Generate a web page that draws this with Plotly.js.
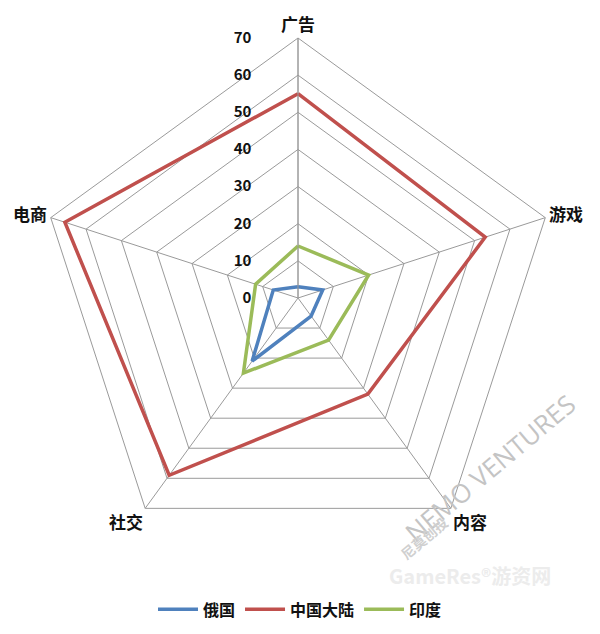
<!DOCTYPE html>
<html>
<head>
<meta charset="utf-8">
<script src="https://cdn.plot.ly/plotly-3.0.1.min.js"></script>
<style>html,body{margin:0;padding:0;background:#fff;}#chart{width:600px;height:634px;}</style>
</head>
<body>
<div id="chart"></div>
<script>
const categories = ["广告", "游戏", "内容", "社交", "电商"];
const seriesNames = ["俄国", "中国大陆", "印度"];
const russia = [3, 7, 6, 21, 7];
const china = [55, 53, 32, 59, 66];
const india = [14, 20, 14, 25, 12];
const radialTicks = [0, 10, 20, 30, 40, 50, 60, 70];

const colors = ["#4f81bd", "#c0504d", "#9bbb59"];
const values = [russia, china, india];

const traces = values.map((v, i) => ({
  type: "scatterpolar",
  mode: "lines",
  name: seriesNames[i],
  r: v.concat([v[0]]),
  theta: categories.concat([categories[0]]),
  line: { color: colors[i], width: 3.5 },
  hoverinfo: "skip"
}));

const font = { family: "'Noto Sans CJK SC', 'Noto Sans', sans-serif", color: "#111", size: 15 };
const pad = "\u00a0".repeat(12);

const layout = {
  width: 600, height: 634,
  margin: { l: 0, r: 0, t: 0, b: 0 },
  paper_bgcolor: "#ffffff",
  font: font,
  showlegend: true,
  legend: {
    orientation: "h", x: 0.5, xanchor: "center", y: 0.012, yanchor: "bottom",
    font: { family: font.family, size: 16, color: "#111", weight: "bold" },
    itemwidth: 40
  },
  polar: {
    domain: { x: [38 / 600, 558 / 600], y: [1 - 558 / 634, 1 - 38 / 634] },
    bgcolor: "#ffffff",
    gridshape: "linear",
    radialaxis: {
      range: [0, 70],
      tickvals: radialTicks,
      ticktext: radialTicks.map(t => String(t) + pad),
      angle: 90,
      side: "counterclockwise",
      tickangle: 90,
      showline: true,
      linecolor: "#9a9a9a",
      linewidth: 1,
      gridcolor: "#9a9a9a",
      gridwidth: 1,
      ticks: "",
      tickfont: { family: font.family, size: 15, color: "#111", weight: "bold" }
    },
    angularaxis: {
      rotation: 90,
      direction: "clockwise",
      showline: true,
      linecolor: "#9a9a9a",
      linewidth: 1,
      gridcolor: "#9a9a9a",
      gridwidth: 1,
      ticks: "",
      tickfont: { family: font.family, size: 17, color: "#111", weight: "bold" }
    }
  },
  annotations: [
    { text: "NEMO VENTURES", x: 490 / 600, y: 1 - 468 / 634, xref: "paper", yref: "paper",
      xanchor: "center", yanchor: "middle", showarrow: false,
      textangle: -40, font: { family: "'Open Sans', sans-serif", size: 26, color: "#c4c4c4" } },
    { text: "尼莫创投", x: 424 / 600, y: 1 - 538 / 634, xref: "paper", yref: "paper",
      xanchor: "center", yanchor: "middle", showarrow: false,
      textangle: -40, font: { family: font.family, size: 14, color: "#d0d0d0", weight: "bold" } },
    { text: "GameRes®游资网", x: 470 / 600, y: 1 - 575 / 634, xref: "paper", yref: "paper",
      xanchor: "center", yanchor: "middle", showarrow: false,
      font: { family: font.family, size: 20, color: "#ececec", weight: "bold" } }
  ]
};

Plotly.newPlot("chart", traces, layout, { displayModeBar: false, staticPlot: true });
</script>
</body>
</html>
